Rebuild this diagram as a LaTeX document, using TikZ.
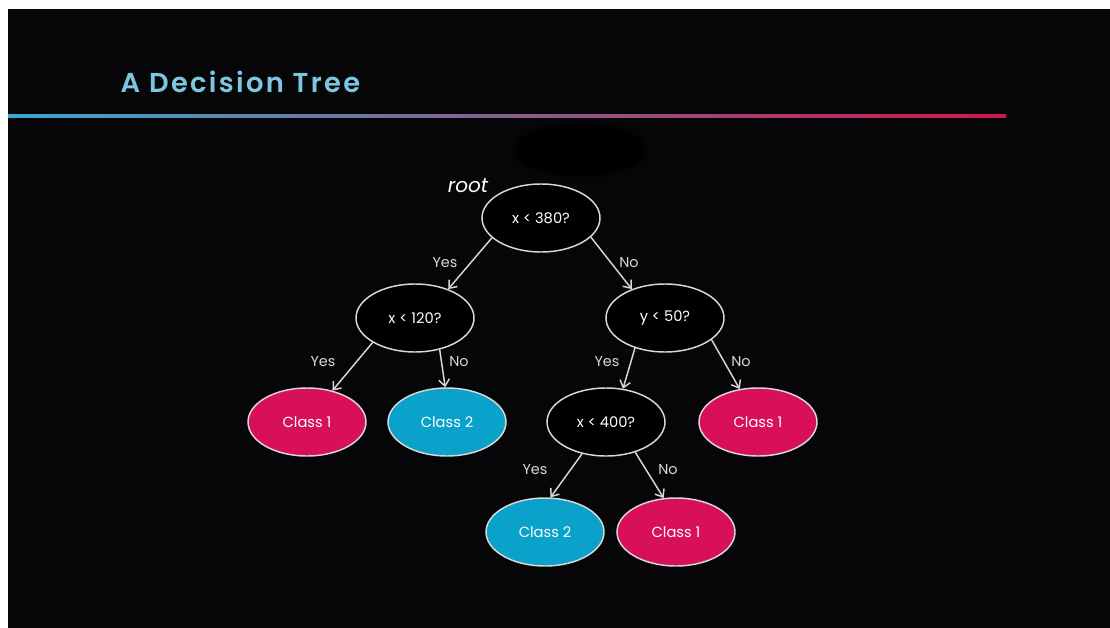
\documentclass[tikz,border=0pt]{standalone}
\usepackage{fontspec}
\setmainfont{Poppins}
\newfontfamily\titlefont[LetterSpace=8.5]{Poppins SemiBold}
\usetikzlibrary{shapes.geometric,arrows.meta}
\definecolor{bg}{HTML}{060508}
\definecolor{titleblue}{HTML}{7CC6E0}
\definecolor{lineblue}{HTML}{3AA8CC}
\definecolor{linered}{HTML}{D2164E}
\definecolor{classred}{HTML}{D8105A}
\definecolor{classblue}{HTML}{0AA2CA}
\definecolor{edgegray}{HTML}{D8D8D8}
\tikzset{
  treenode/.style={ellipse, draw=edgegray, line width=1.1pt, minimum width=88.5pt,
    minimum height=51pt, inner sep=0pt, text=white, font=\fontsize{11}{13}\selectfont},
  testnode/.style={treenode, fill=black},
  redleaf/.style={treenode, fill=classred},
  blueleaf/.style={treenode, fill=classblue},
  branch/.style={draw=edgegray, line width=1.1pt, -{Straight Barb[length=5pt,width=8pt]}},
  branchlabel/.style={text=edgegray, font=\fontsize{10.8}{13}\selectfont},
}
\begin{document}
\begin{tikzpicture}[x=0.75pt,y=-0.75pt]
% page and dark slide area
\fill[white] (0,0) rectangle (1110,628);
\fill[bg] (8,9) rectangle (1110,628);
\useasboundingbox (0,0) rectangle (1110,628);
% soft dark patch above the root, built from stacked translucent ellipses
\foreach \k in {0,...,11}
  \fill[black, opacity=0.22] (580,150) ellipse ({68-2*\k} and {28-1.2*\k});
% title and gradient rule
\node[anchor=west, text=titleblue, font=\titlefont\fontsize{20.5}{24}\selectfont] (title) at (116,82) {A Decision Tree};
\shade[left color=lineblue, right color=linered] (8,114.5) rectangle (1006,117.5);
% decision nodes
\node[testnode] (root) at (541,218) {x < 380?};
\node[text=white, font=\itshape\fontsize{15}{17}\selectfont] (rootlabel) at (468,186) {root};
\node[testnode] (xa) at (415,318) {x < 120?};
\node[testnode] (ya) at (665,318) {y < 50?};
\node[testnode] (xb) at (606,422) {x < 400?};
% leaves
\node[redleaf] (c1a) at (307,422) {Class 1};
\node[blueleaf] (c2a) at (447,422) {Class 2};
\node[redleaf] (c1b) at (758,422) {Class 1};
\node[blueleaf] (c2b) at (545,532) {Class 2};
\node[redleaf] (c1c) at (676,532) {Class 1};
% branches
\draw[branch] (root.202) -- (xa.41);
\draw[branch] (root.339) -- (ya.139);
\draw[branch] (xa.210) -- (c1a.51);
\draw[branch] (xa.308) -- (c2a.93);
\draw[branch] (ya.225) -- (xb.63);
\draw[branch] (ya.335) -- (c1b.119);
\draw[branch] (xb.233) -- (c2b.81);
\draw[branch] (xb.314) -- (c1c.110);
% branch labels
\node[branchlabel] (l1) at (445,263) {Yes};
\node[branchlabel] (l2) at (629,263) {No};
\node[branchlabel] (l3) at (323,362) {Yes};
\node[branchlabel] (l4) at (459,362) {No};
\node[branchlabel] (l5) at (607,362) {Yes};
\node[branchlabel] (l6) at (741,362) {No};
\node[branchlabel] (l7) at (535,470) {Yes};
\node[branchlabel] (l8) at (668,470) {No};
\end{tikzpicture}
\end{document}
